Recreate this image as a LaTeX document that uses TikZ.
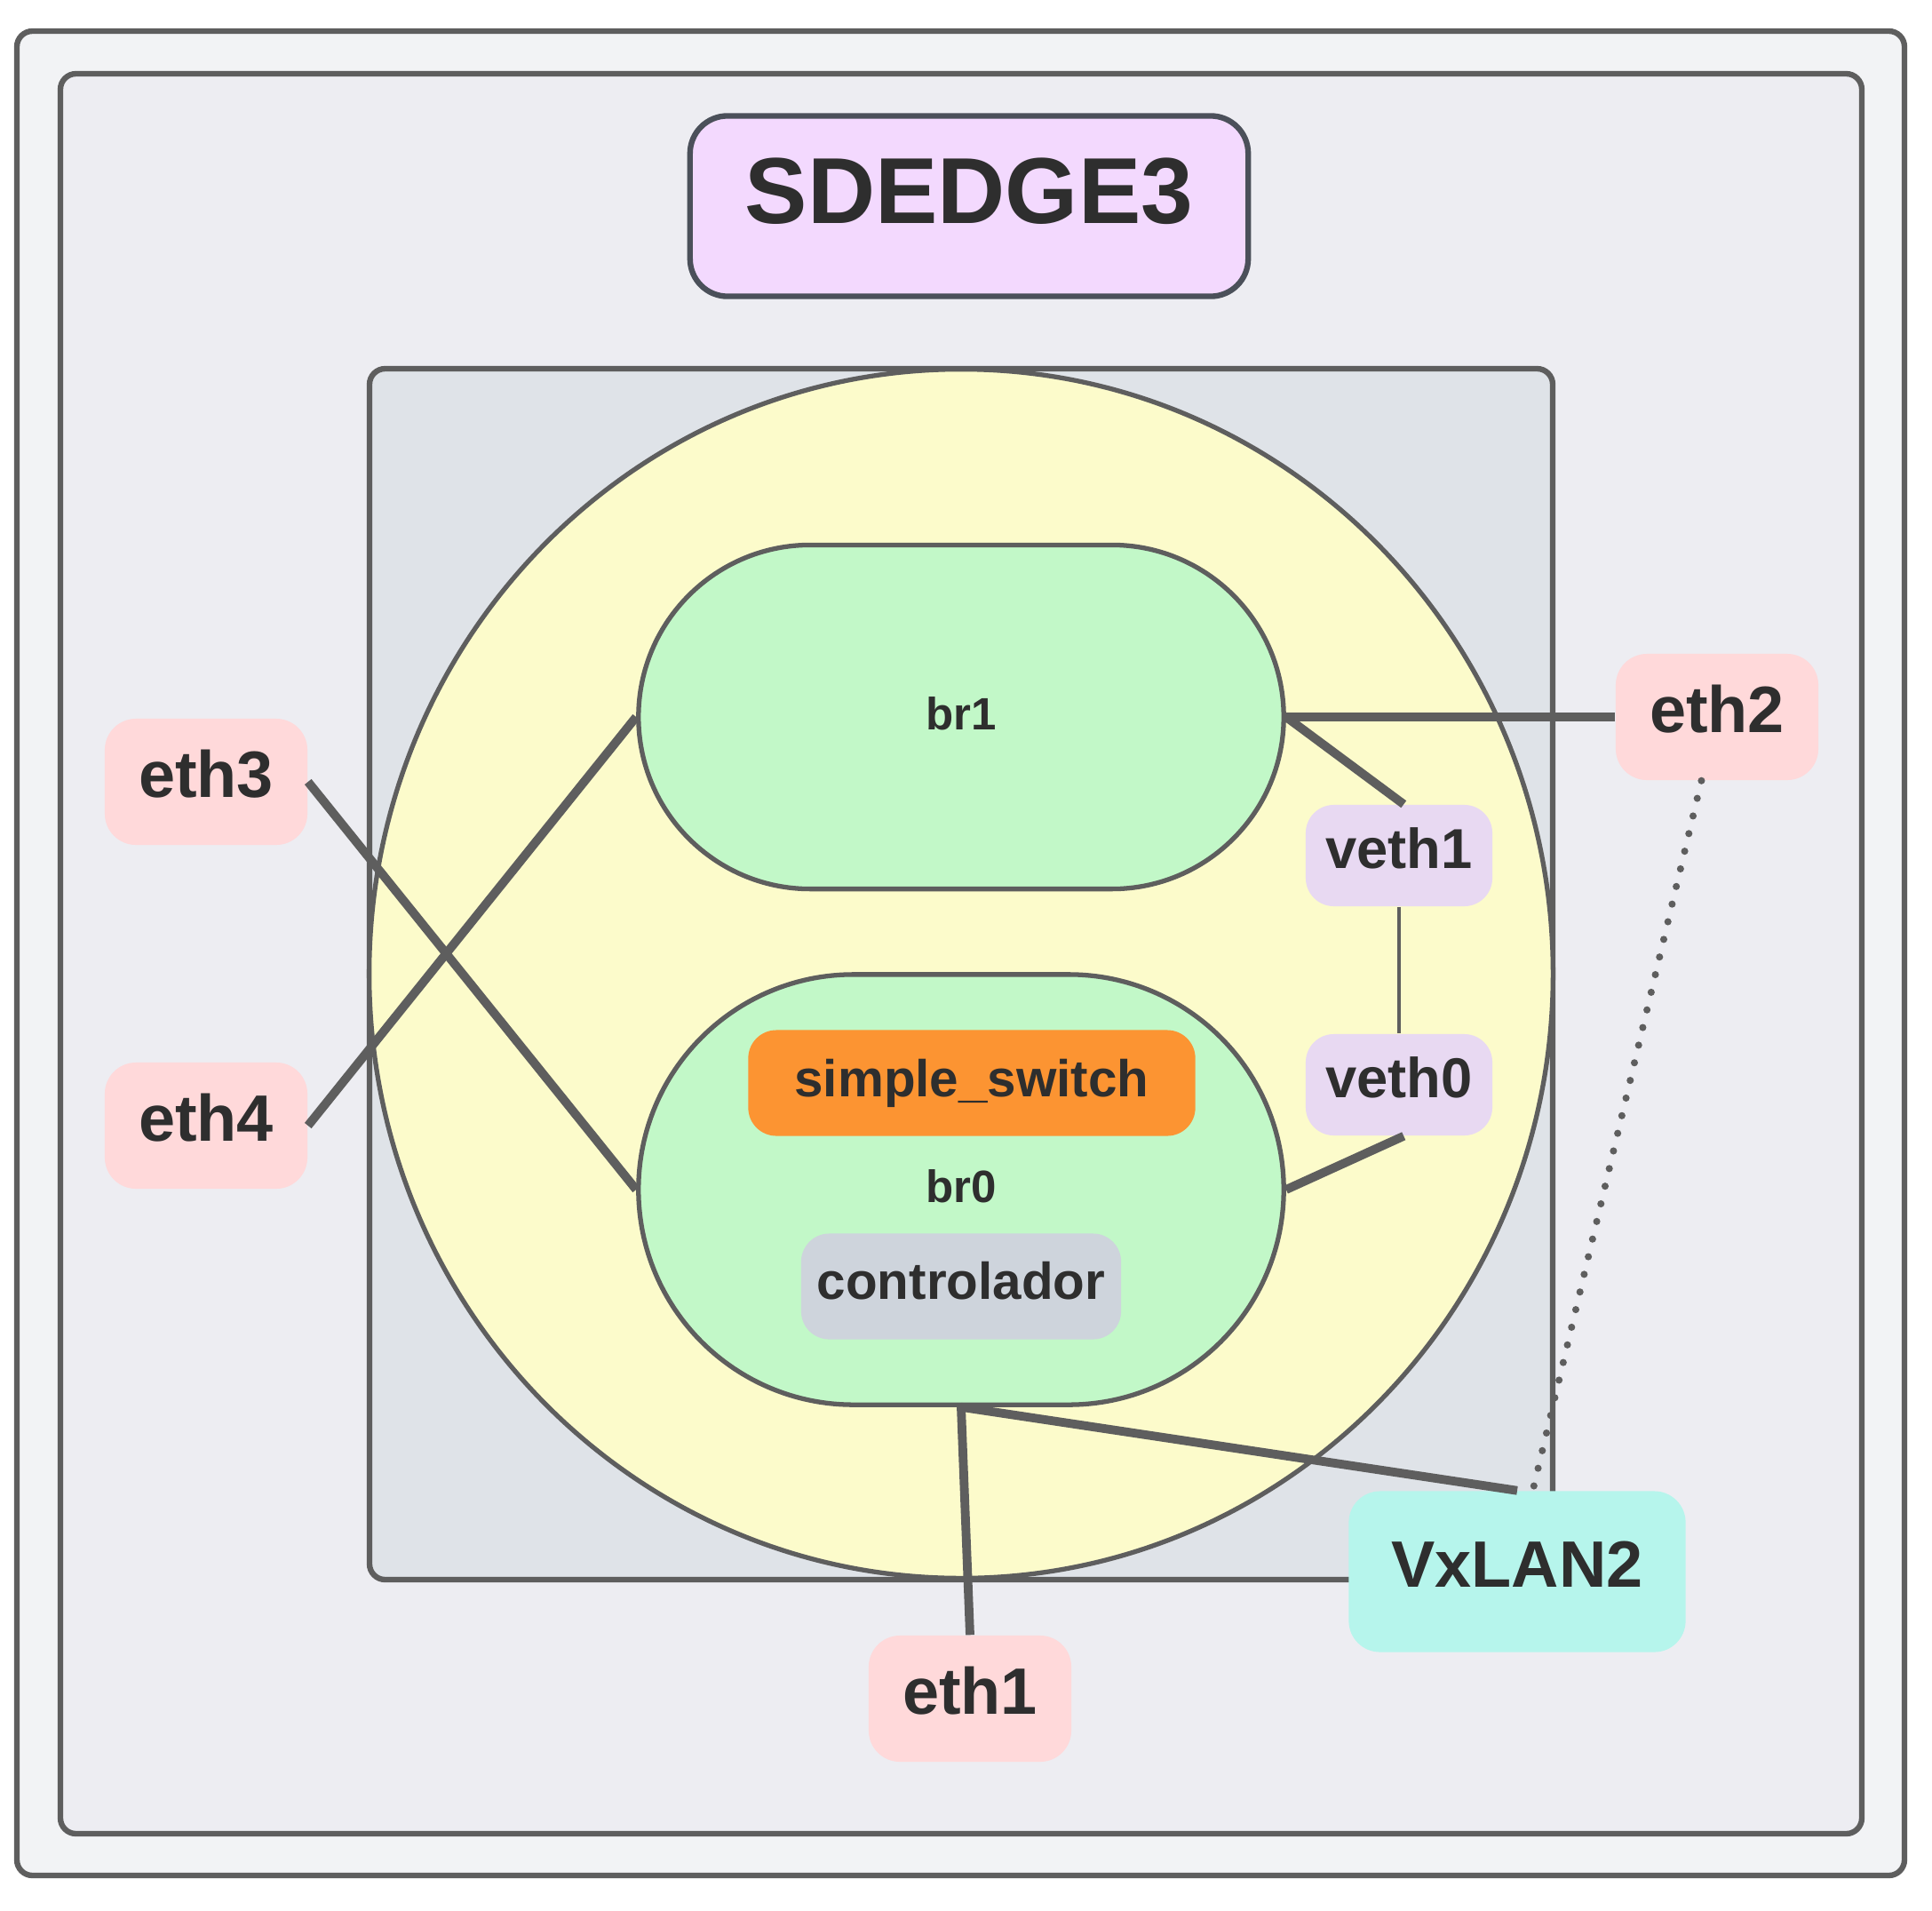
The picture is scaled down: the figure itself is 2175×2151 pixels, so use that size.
\documentclass[tikz,border=0pt]{standalone}
\usepackage{fontspec}
\setmainfont{Liberation Sans}
\definecolor{edge}{HTML}{5E5E5E}
\definecolor{ink}{HTML}{2E2E2E}
\definecolor{outerbg}{HTML}{F2F3F5}
\definecolor{innerbg}{HTML}{EDEDF2}
\definecolor{hostbg}{HTML}{DFE3E8}
\definecolor{nsyellow}{HTML}{FCFBCB}
\definecolor{brgreen}{HTML}{C2F8C8}
\definecolor{sworange}{HTML}{FC9432}
\definecolor{ctlgray}{HTML}{CED4DC}
\definecolor{vethlila}{HTML}{E8D9F2}
\definecolor{ethpink}{HTML}{FFD9DA}
\definecolor{vxcyan}{HTML}{B6F5EC}
\definecolor{titlebg}{HTML}{F3D9FE}
\definecolor{titleedge}{HTML}{4B505A}
\begin{document}
\begin{tikzpicture}[x=0.01cm, y=-0.01cm,
	frame/.style={draw=edge, line width=1.8pt, rounded corners=5pt},
	bridge/.style={draw=edge, line width=1.5pt, fill=brgreen, minimum width=7.26cm, text=ink, text height=10.5pt, text depth=2.5pt, font=\fontsize{14.5}{17}\selectfont\bfseries},
	port/.style={fill=ethpink, rounded corners=10pt, minimum width=2.28cm, minimum height=1.42cm, text=ink, text height=15pt, text depth=5pt, font=\fontsize{21}{25}\selectfont\bfseries},
	vport/.style={fill=vethlila, rounded corners=9pt, minimum width=2.1cm, minimum height=1.14cm, text=ink, text height=13pt, text depth=4.5pt, font=\fontsize{18}{22}\selectfont\bfseries},
	proc/.style={rounded corners=9pt, minimum height=1.19cm, text=ink, font=\fontsize{16.6}{20}\selectfont\bfseries},
	link/.style={draw=edge, line width=2.8pt},
	thinlink/.style={draw=edge, line width=1.3pt},
	tunnel/.style={draw=edge, line width=2.3pt, line cap=round, dash pattern=on 0pt off 5.8pt}]
	\useasboundingbox (0,0) rectangle (2175,2151);
	% nested containers
	\draw[frame, fill=outerbg] (19,35) rectangle (2144,2111);
	\draw[frame, fill=innerbg] (68,83) rectangle (2096,2064);
	\node[draw=titleedge, line width=1.8pt, fill=titlebg, rounded corners=12pt, minimum width=6.28cm, minimum height=2.03cm,
		text=ink, text height=21.5pt, text depth=10.2pt, font=\fontsize{30}{36}\selectfont\bfseries] (title) at (1091,232) {SDEDGE3};
	\draw[frame, fill=hostbg] (416,415) rectangle (1748,1778);
	\draw[draw=edge, line width=1.5pt, fill=nsyellow] (1082,1096) ellipse [x radius=6.66cm, y radius=6.80cm];
	% bridges
	\node[bridge, minimum height=3.87cm, rounded corners=1.935cm] (br1) at (1082,807) {br1};
	\node[bridge, minimum height=4.84cm, rounded corners=2.42cm] (br0) at (1082,1339) {br0};
	\node[proc, fill=sworange, minimum width=5.03cm] (sw) at (1094,1219) {simple\_switch};
	\node[proc, fill=ctlgray, minimum width=3.6cm, text height=12pt, text depth=4pt] (ctl) at (1082,1448) {controlador};
	% interfaces
	\node[vport] (veth1) at (1575,963) {veth1};
	\node[vport] (veth0) at (1575,1221) {veth0};
	\node[port] (eth2) at (1933,807) {eth2};
	\node[port] (eth3) at (232,880) {eth3};
	\node[port] (eth4) at (232,1267) {eth4};
	\node[port] (eth1) at (1092,1912) {eth1};
	\node[port, fill=vxcyan, minimum width=3.79cm, minimum height=1.81cm] (vxlan2) at (1708,1769) {VxLAN2};
	% links
	\draw[link] (br1.east) -- (eth2.west);
	\draw[link] (br1.east) -- ([xshift=1.5pt]veth1.north);
	\draw[thinlink] (veth1.south) -- (veth0.north);
	\draw[link] ([xshift=1.5pt]veth0.south) -- (br0.east);
	\draw[link] (eth3.east) -- (br0.west);
	\draw[link] (eth4.east) -- (br1.west);
	\draw[link] (br0.south) -- (eth1.north);
	\draw[link] (br0.south) -- (vxlan2.north);
	\draw[tunnel] ([xshift=-5pt]eth2.south) -- ([xshift=5pt]vxlan2.north);
\end{tikzpicture}
\end{document}
